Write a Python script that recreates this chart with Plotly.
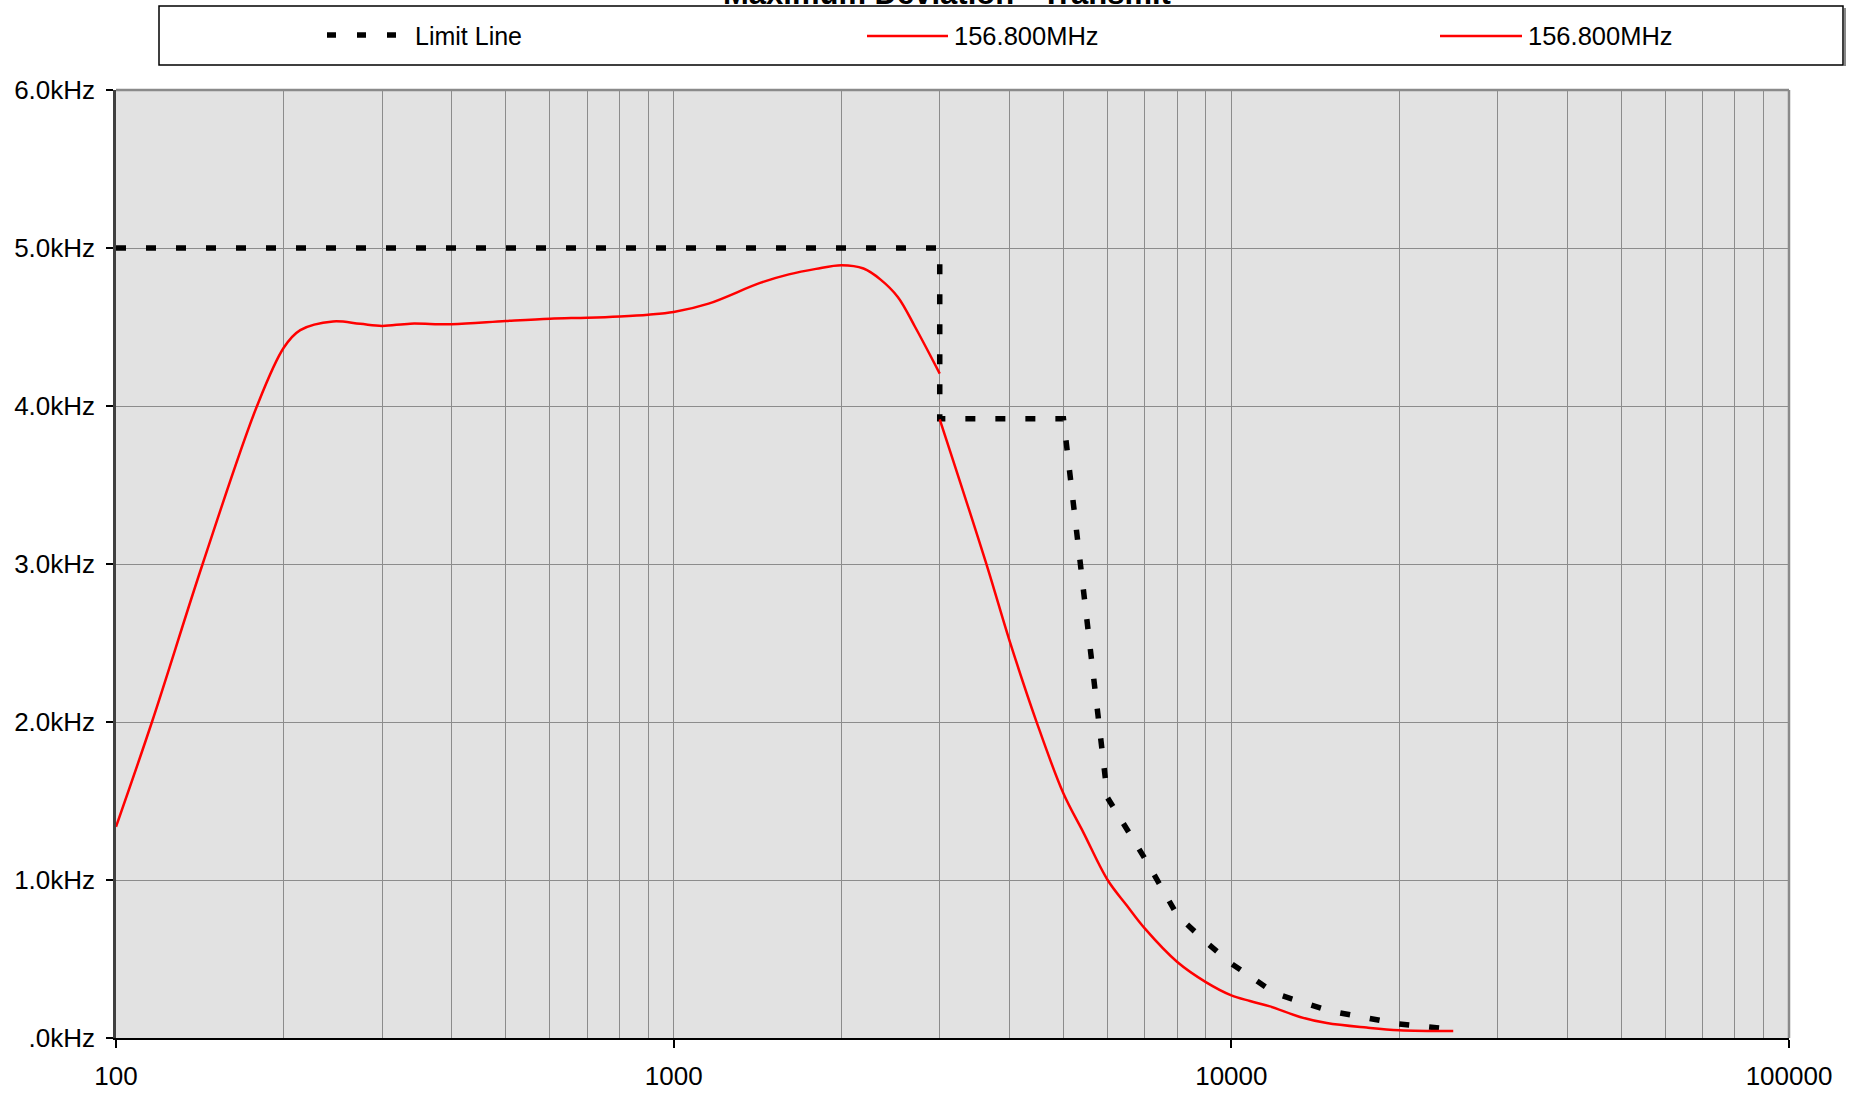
import plotly.graph_objects as go

# ---------------- data ----------------
limit_freq = [100, 3000, 3000, 5000, 6000, 7000, 8000, 9000, 10000, 12000, 15000, 20000, 25000]
limit_dev = [5.0, 5.0, 3.92, 3.92, 1.52, 1.135, 0.777, 0.608, 0.471, 0.281, 0.171, 0.089, 0.055]

series1_freq = [100, 116, 143, 179, 200, 214, 245, 274, 300, 337, 400, 500, 600, 700, 800, 900,
                1000, 1155, 1429, 1609, 1800, 2000, 2190, 2350, 2523, 2710, 3000]
series1_dev = [1.337, 2.0, 3.0, 4.0, 4.37, 4.48, 4.535, 4.52, 4.507, 4.521, 4.517, 4.538, 4.553, 4.559,
               4.567, 4.578, 4.595, 4.648, 4.779, 4.833, 4.868, 4.891, 4.870, 4.80, 4.69, 4.50, 4.205]

series2_freq = [3000, 3640, 4000, 4477, 5000, 5430, 6000, 6490, 7000, 8000, 9000, 10000, 10800, 11730,
                13280, 14830, 17480, 20000, 25000]
series2_dev = [3.916, 2.996, 2.517, 1.998, 1.547, 1.30, 1.0, 0.84, 0.692, 0.481, 0.354, 0.270, 0.234,
               0.200, 0.133, 0.095, 0.066, 0.049, 0.044]

x_tickvals = [100, 1000, 10000, 100000]
x_ticktext = ["100", "1000", "10000", "100000"]
x_minorvals = [m * d for d in (100, 1000, 10000) for m in range(2, 10)]
y_tickvals = [0, 1, 2, 3, 4, 5, 6]
y_ticktext = [".0kHz", "1.0kHz", "2.0kHz", "3.0kHz", "4.0kHz", "5.0kHz", "6.0kHz"]

title_text = "Maximum Deviation - Transmit"
legend_names = ["Limit Line", "156.800MHz", "156.800MHz"]

# ---------------- layout geometry (pixels) ----------------
W, H = 1850, 1093
L, R, T, B = 116, 1789, 90, 1038
FONT = "Liberation Sans, Arial, sans-serif"


def px(x):
    return (x - L) / (R - L)


def py(y):
    return (B - y) / (B - T)


fig = go.Figure()
fig.add_trace(go.Scatter(x=limit_freq, y=limit_dev, mode="lines", name=legend_names[0],
                         line=dict(color="black", width=5.5, dash="10px,20px"), showlegend=False))
fig.add_trace(go.Scatter(x=series1_freq, y=series1_dev, mode="lines", name=legend_names[1],
                         line=dict(color="#ff0000", width=2.5, shape="spline", smoothing=1.0),
                         showlegend=False))
fig.add_trace(go.Scatter(x=series2_freq, y=series2_dev, mode="lines", name=legend_names[2],
                         line=dict(color="#ff0000", width=2.5, shape="spline", smoothing=1.0),
                         showlegend=False))

shapes = [
    # plot-area border (top, right)
    dict(type="line", xref="paper", yref="paper", x0=0, x1=1, y0=1, y1=1,
         line=dict(color="#8a8a8a", width=2.5)),
    dict(type="line", xref="paper", yref="paper", x0=1, x1=1, y0=0, y1=1,
         line=dict(color="#8a8a8a", width=2.5)),
    # legend box
    dict(type="rect", xref="paper", yref="paper", x0=px(159), x1=px(1843), y0=py(6), y1=py(65),
         line=dict(color="black", width=1.5), fillcolor="white"),
    dict(type="line", xref="paper", yref="paper", x0=px(1845), x1=px(1845), y0=py(8), y1=py(66),
         line=dict(color="#888888", width=2)),
    # legend symbols
    dict(type="line", xref="paper", yref="paper", x0=px(327), x1=px(397), y0=py(35), y1=py(35),
         line=dict(color="black", width=5.5, dash="9px,21px")),
    dict(type="line", xref="paper", yref="paper", x0=px(867), x1=px(948), y0=py(36), y1=py(36),
         line=dict(color="#ff0000", width=2.5)),
    dict(type="line", xref="paper", yref="paper", x0=px(1440), x1=px(1522), y0=py(36), y1=py(36),
         line=dict(color="#ff0000", width=2.5)),
]

annotations = [
    dict(text="<b>" + title_text + "</b>", xref="paper", yref="paper", x=px(947), y=py(-6),
         xanchor="center", yanchor="middle", showarrow=False,
         font=dict(family=FONT, size=31, color="black")),
    dict(text=legend_names[0], xref="paper", yref="paper", x=px(413), y=py(36.5),
         xanchor="left", yanchor="middle", showarrow=False, font=dict(family=FONT, size=25, color="black")),
    dict(text=legend_names[1], xref="paper", yref="paper", x=px(952), y=py(36.5),
         xanchor="left", yanchor="middle", showarrow=False, font=dict(family=FONT, size=25.5, color="black")),
    dict(text=legend_names[2], xref="paper", yref="paper", x=px(1526), y=py(36.5),
         xanchor="left", yanchor="middle", showarrow=False, font=dict(family=FONT, size=25.5, color="black")),
]

fig.update_layout(
    width=W, height=H,
    margin=dict(l=L, r=W - R, t=T, b=H - B, pad=0, autoexpand=False),
    paper_bgcolor="white",
    plot_bgcolor="#e2e2e2",
    font=dict(family=FONT, size=26, color="black"),
    showlegend=False,
    shapes=shapes,
    annotations=annotations,
    xaxis=dict(
        type="log", range=[2, 5], automargin=False,
        tickmode="array", tickvals=x_tickvals, ticktext=x_ticktext,
        ticks="outside", ticklen=8, tickwidth=1.5, tickcolor="black",
        showgrid=True, gridcolor="#8c8c8c", gridwidth=1,
        minor=dict(tickmode="array", tickvals=x_minorvals, showgrid=True,
                   gridcolor="#8c8c8c", gridwidth=1, ticks=""),
        showline=True, linecolor="black", linewidth=2,
        zeroline=False,
        tickfont=dict(family=FONT, size=26, color="black"),
        ticklabelstandoff=6,
    ),
    yaxis=dict(
        range=[0, 6], automargin=False,
        tickmode="array", tickvals=y_tickvals, ticktext=y_ticktext,
        ticks="outside", ticklen=7, tickwidth=1.5, tickcolor="black",
        showgrid=True, gridcolor="#8c8c8c", gridwidth=1,
        showline=True, linecolor="#404040", linewidth=2.5,
        zeroline=False,
        tickfont=dict(family=FONT, size=26, color="black"),
        ticklabelstandoff=6,
    ),
)

fig.write_html("out.html")
